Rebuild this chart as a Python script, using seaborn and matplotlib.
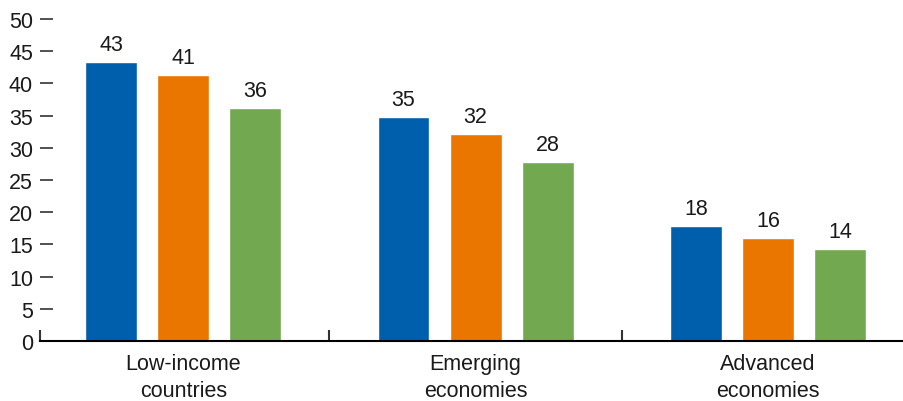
import matplotlib
matplotlib.use("Agg")
import matplotlib.pyplot as plt
import seaborn as sns
import pandas as pd
from matplotlib import font_manager

categories = ["Low-income\ncountries", "Emerging\neconomies", "Advanced\neconomies"]
series_names = ["Series A", "Series B", "Series C"]
series_a = [43.3, 34.8, 17.9]
series_b = [41.3, 32.1, 16.0]
series_c = [36.2, 27.8, 14.3]
y_ticks = [0, 5, 10, 15, 20, 25, 30, 35, 40, 45, 50]
colors = ["#005FAD", "#EA7600", "#72A84F"]

sns.set_theme(style="white")
names = {f.name for f in font_manager.fontManager.ttflist}
fam = [f for f in ["Liberation Sans Narrow", "Liberation Sans", "DejaVu Sans"] if f in names]
plt.rcParams["font.family"] = fam

rows = []
for name, vals in zip(series_names, [series_a, series_b, series_c]):
    for c, v in zip(categories, vals):
        rows.append({"category": c, "series": name, "value": v})
df = pd.DataFrame(rows)

fig = plt.figure(figsize=(9.04, 4.02), dpi=100)
ax = fig.add_axes([40 / 904, 1 - 342 / 402, 864 / 904, (342 - 20) / 402])

sns.barplot(data=df, x="category", y="value", hue="series", palette=colors,
            width=0.74, gap=0.28, ax=ax, legend=False, saturation=1)

for cont in ax.containers:
    ax.bar_label(cont, fmt="%.0f", padding=5, fontsize=15.5, color="#1a1a1a")

ax.set_ylim(0, 50)
ax.set_xlim(-0.49, 2.465)
ax.set_yticks(y_ticks)
ax.set_yticklabels([str(t) for t in y_ticks])
ax.set_xticks(range(len(categories)))
ax.set_xticklabels(categories, linespacing=1.35)
ax.set_xlabel("")
ax.set_ylabel("")

for s in ["left", "right", "top"]:
    ax.spines[s].set_visible(False)
ax.spines["bottom"].set_color("black")
ax.spines["bottom"].set_linewidth(1.5)

ax.tick_params(axis="y", direction="in", length=9, width=1.2, color="#333333",
               labelsize=15.5, labelcolor="#1a1a1a", pad=5, left=True)
ax.tick_params(axis="x", which="major", length=0, labelsize=15.5,
               labelcolor="#1a1a1a", pad=9)
ax.set_xticks([-0.49, 0.5, 1.5], minor=True)
ax.tick_params(axis="x", which="minor", direction="in", length=8, width=1.5,
               color="#333333", bottom=True)

fig.savefig("out.png", dpi=100)
